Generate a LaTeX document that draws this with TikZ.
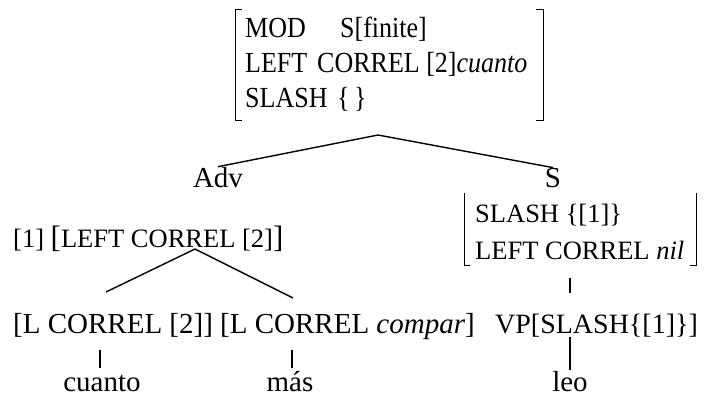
\documentclass[tikz,border=0pt]{standalone}
\usepackage{fontspec}
\setmainfont{Liberation Serif}
\newcommand\vstretch[1]{\scalebox{1}[1.12]{#1}}
\begin{document}
\begin{tikzpicture}[x=1pt,y=-1pt,
  toptxt/.style={inner sep=0pt,anchor=base west,font=\fontsize{26}{30}\selectfont},
  midtxt/.style={inner sep=0pt,anchor=base west,font=\fontsize{26.5}{30}\selectfont},
  bottxt/.style={inner sep=0pt,anchor=base west,font=\fontsize{29}{32}\selectfont},
  cat/.style={inner sep=0pt,anchor=base,font=\fontsize{29}{32}\selectfont},
  edge/.style={line width=1.4pt},
  tick/.style={line width=1.3pt},
  brk/.style={line width=0.9pt}]
\useasboundingbox (0,0) rectangle (704,400);
% top AVM
\node[toptxt] (mod) at (245,37) {\vstretch{MOD}};
\node[toptxt] (fin) at (340,37) {\vstretch{S[finite]}};
\node[toptxt] (lft) at (245,72) {\vstretch{LEFT}};
\node[toptxt] (corr) at (317,72) {\vstretch{CORREL [2]\textit{cuanto}}};
\node[toptxt] (sla) at (245,107) {\vstretch{SLASH}};
\node[toptxt] (emp) at (337,107) {\vstretch{\{\,\}}};
\coordinate (tl) at (242,9);
\coordinate (tlv) at (235,9);
\coordinate (blv) at (235,120);
\coordinate (bl) at (242,120);
\coordinate (tr) at (536,9);
\coordinate (trv) at (543,9);
\coordinate (brv) at (543,120);
\coordinate (br) at (536,120);
\draw[brk] (tl) -- (tlv) -- (blv) -- (bl);
\draw[brk] (tr) -- (trv) -- (brv) -- (br);
% first level
\coordinate (topapex) at (378,135);
\node[cat] (adv) at (218,187) {Adv};
\node[cat] (s) at (553,187) {S};
\draw[edge] (topapex) -- (adv.north);
\draw[edge] (topapex) -- (s.north);
% Adv subtree
\node[midtxt] (advavm) at (13,247) {[1] {\fontsize{31}{31}\selectfont[}LEFT CORREL [2]{\fontsize{31}{31}\selectfont]}};
\coordinate (advapex) at (195,249);
\coordinate (lend) at (106,292);
\coordinate (rend) at (293,298);
\draw[edge] (advapex) -- (lend);
\draw[edge] (advapex) -- (rend);
\node[bottxt] (lc2) at (13,333) {[L CORREL [2]]};
\node[bottxt] (lcc) at (220,333) {[L CORREL \textit{compar}]};
\coordinate (t1a) at (100,350);
\coordinate (t1b) at (100,368);
\coordinate (t2a) at (292,350);
\coordinate (t2b) at (292,368);
\draw[tick] (t1a) -- (t1b);
\draw[tick] (t2a) -- (t2b);
\node[cat] (cuanto) at (102,391) {cuanto};
\node[cat] (mas) at (290,391) {más};
% S subtree
\node[midtxt] (ssl) at (475,222) {SLASH \{[1]\}};
\node[midtxt] (slc) at (475,259) {LEFT CORREL \textit{nil}};
\coordinate (sl1) at (464,193);
\coordinate (sl2) at (464,265);
\coordinate (sl3) at (470,265);
\coordinate (sr1) at (696,193);
\coordinate (sr2) at (696,265);
\coordinate (sr3) at (690,265);
\draw[brk] (sl1) -- (sl2) -- (sl3);
\draw[brk] (sr1) -- (sr2) -- (sr3);
\coordinate (t3a) at (570,278);
\coordinate (t3b) at (570,293);
\draw[tick] (t3a) -- (t3b);
\node[bottxt,font=\fontsize{28}{32}\selectfont] (vp) at (495,333) {VP[SLASH\{[1]\}]};
\coordinate (t4a) at (570,337);
\coordinate (t4b) at (570,370);
\draw[tick] (t4a) -- (t4b);
\node[cat] (leo) at (570,391) {leo};
\end{tikzpicture}
\end{document}
